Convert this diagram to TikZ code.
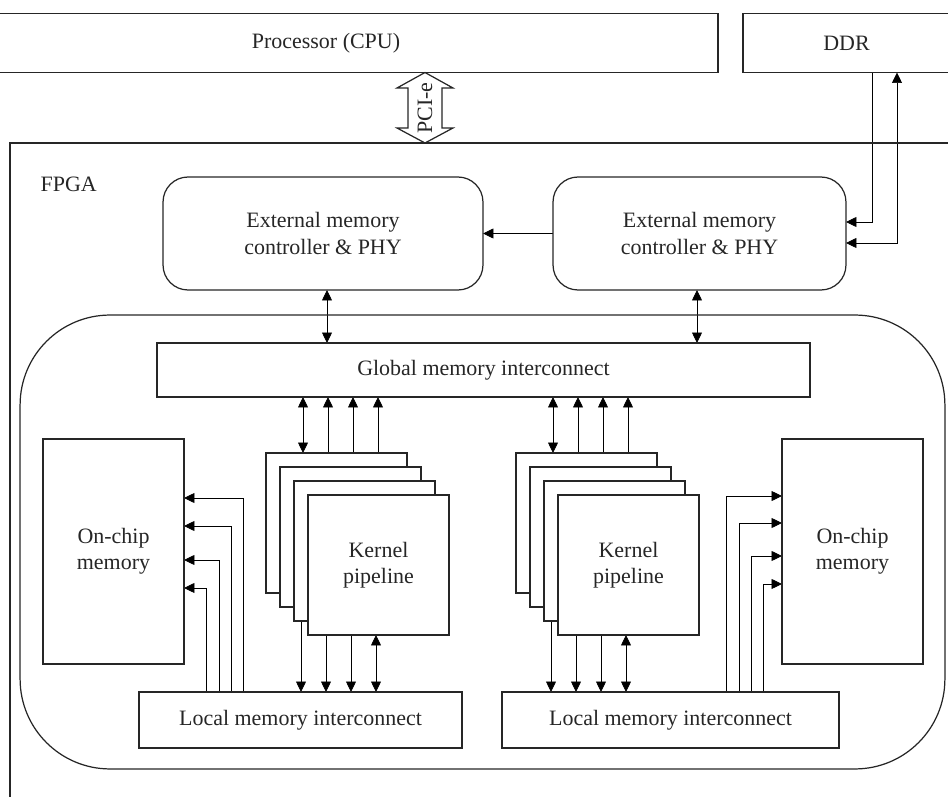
\documentclass[tikz,border=0pt]{standalone}
\usepackage{fontspec}
\setmainfont{Liberation Serif}
\usepackage{tikz}
\usetikzlibrary{arrows.meta}
\usetikzlibrary{backgrounds}
\tikzset{>={Triangle[length=2.1mm,width=2mm]}}
\tikzset{
  box/.style={draw, rectangle, inner sep=0pt, outer sep=0pt, align=center},
  ctrl/.style={box, rounded corners=0.5cm, minimum height=2.26cm},
  kernel/.style={box, fill=white, minimum width=2.82cm, minimum height=2.8cm},
  chipmem/.style={box, minimum width=2.82cm, minimum height=4.5cm},
  icbox/.style={box, minimum height=1.12cm}
}

\begin{document}
\begin{tikzpicture}[x=0.02cm, y=-0.02cm, line width=0.7pt, color=black!85,
    font=\fontsize{12.5}{15}\selectfont]
        \useasboundingbox (0,0) rectangle (948,797);

        % Host side
        \node[box, minimum width=15.68cm, minimum height=1.18cm] (cpu) at (326,43) {Processor (CPU)};
        \node[box, minimum width=4.14cm, minimum height=1.18cm] (ddr) at (846.5,43) {DDR};

        % FPGA
        \node[box, minimum width=19cm, minimum height=13.34cm] (fpga) at (485,476.5) {};
        \node[anchor=west, inner sep=0pt] (fpgalbl) at (40,184) {FPGA};

        % PCI-e link
        \draw[fill=white] (425,72.5) -- (453,88) -- (442,88) -- (442,128) -- (453,128) -- (425,143)
              -- (397,128) -- (408,128) -- (408,88) -- (397,88) -- cycle;
        \node[rotate=90, inner sep=0pt] (pcie) at (425,108) {PCI-e};

        \node[ctrl, minimum width=6.4cm] (emcL) at (323,233.5) {External memory\\controller \& PHY};
        \node[ctrl, minimum width=5.86cm] (emcR) at (699.5,233.5) {External memory\\controller \& PHY};

        \node[box, rounded corners=1.8cm, minimum width=18.5cm, minimum height=9.08cm] (fabric) at (482.5,542) {};
        \node[box, minimum width=13.06cm, minimum height=1.08cm] (gmi) at (483.5,370) {Global memory interconnect};

        % Kernel stacks
        \foreach \k in {1,...,3} {
          \node[kernel] (kL\k) at (322.5+14*\k,509+14*\k) {};
          \node[kernel] (kR\k) at (572.5+14*\k,509+14*\k) {};
        }
        \node[kernel] (kL4) at (378.5,565) {Kernel\\pipeline};
        \node[kernel] (kR4) at (628.5,565) {Kernel\\pipeline};

        \node[icbox, minimum width=6.46cm] (lmiL) at (300.5,720) {Local memory interconnect};
        \node[icbox, minimum width=6.74cm] (lmiR) at (670.5,720) {Local memory interconnect};

        \node[chipmem] (ocmL) at (113.5,551.5) {On-chip\\memory};
        \node[chipmem] (ocmR) at (852.5,551.5) {On-chip\\memory};

        % Connections
        \begin{scope}[on background layer]
          \draw[->] (emcR.west) -- (emcL.east);
          \draw[->] ([xshift=0.51cm]ddr.south) |- ([yshift=0.23cm]emcR.east);
          \draw[<->] ([xshift=1.01cm]ddr.south) |- ([yshift=-0.19cm]emcR.east);
          \draw[<->] ([xshift=0.08cm]emcL.south) -- ([xshift=0.08cm]emcL.south |- gmi.north);
          \draw[<->] ([xshift=-0.05cm]emcR.south) -- ([xshift=-0.05cm]emcR.south |- gmi.north);

          \foreach \k/\dx in {1/0.74,2/0.96,3/1.18,4/1.40} {
            \draw[<->] ([xshift=\dx cm]kL\k.north west) -- ([xshift=\dx cm]kL\k.north west |- gmi.south);
            \draw[<->] ([xshift=\dx cm]kR\k.north west) -- ([xshift=\dx cm]kR\k.north west |- gmi.south);
          }
          \foreach \k/\dx in {1/0.70,2/0.92,3/1.14} {
            \draw[->] ([xshift=\dx cm]kL\k.south west) -- ([xshift=\dx cm]kL\k.south west |- lmiL.north);
            \draw[->] ([xshift=\dx cm]kR\k.south west) -- ([xshift=\dx cm]kR\k.south west |- lmiR.north);
          }
          \draw[<->] ([xshift=1.36cm]kL4.south west) -- ([xshift=1.36cm]kL4.south west |- lmiL.north);
          \draw[<->] ([xshift=1.36cm]kR4.south west) -- ([xshift=1.36cm]kR4.south west |- lmiR.north);

          \foreach \dx/\dy in {2.08/1.07,1.84/0.51,1.60/-0.17,1.34/-0.73}
            \draw[->] ([xshift=\dx cm]lmiL.north west) |- ([yshift=\dy cm]ocmL.east);
          \foreach \dx/\dy in {4.48/1.11,4.74/0.57,4.98/-0.09,5.22/-0.65}
            \draw[->] ([xshift=\dx cm]lmiR.north west) |- ([yshift=\dy cm]ocmR.west);
        \end{scope}
\end{tikzpicture}
\end{document}
